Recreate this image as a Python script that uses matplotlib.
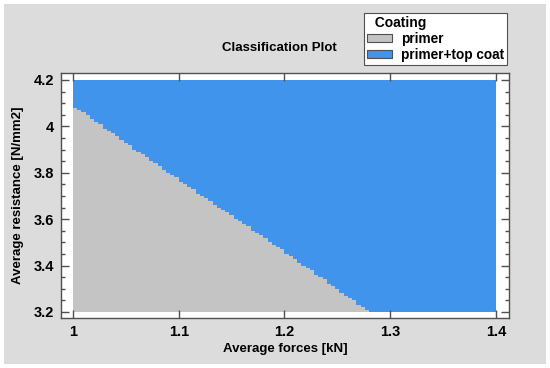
import matplotlib
matplotlib.use("Agg")
import matplotlib.pyplot as plt
import numpy as np
from matplotlib.colors import ListedColormap
from matplotlib.patches import Patch, Rectangle
from matplotlib.ticker import MultipleLocator

plt.rcParams["font.family"] = "Liberation Sans"
plt.rcParams["font.weight"] = "bold"
plt.rcParams["font.size"] = 9

# class boundary (x = average forces, y = average resistance)
boundary_x = [1.0, 1.1, 1.2, 1.28]
boundary_y = [4.09, 3.77, 3.46, 3.20]
classes = ['primer', 'primer+top coat']
class_colors = ['#C4C4C4', '#4094EC']

x_range = (1.0, 1.4)
y_range = (3.2, 4.2)
n_cells = 100

x_edges = np.linspace(x_range[0], x_range[1], n_cells + 1)
y_edges = np.linspace(y_range[0], y_range[1], n_cells + 1)
xc = (x_edges[:-1] + x_edges[1:]) / 2
yc = (y_edges[:-1] + y_edges[1:]) / 2
XC, YC = np.meshgrid(xc, yc)
label = (YC > np.interp(XC, boundary_x, boundary_y)).astype(int)

fig = plt.figure(figsize=(5.5, 3.68), dpi=100, facecolor='white')
fig.patches.append(Rectangle((4 / 550, 4 / 368), 542 / 550, 360 / 368,
                             transform=fig.transFigure, facecolor='#DCDCDC',
                             edgecolor='none', zorder=-10))

ax = fig.add_axes([61 / 550, 1 - 318 / 368, 448 / 550, 245 / 368])
ax.set_facecolor('white')
ax.pcolormesh(x_edges, y_edges, label, cmap=ListedColormap(class_colors),
              vmin=0, vmax=1, shading='flat')

ax.set_xlim(0.9887, 1.4123)
ax.set_ylim(3.174, 4.230)
ax.set_xticks([1.0, 1.1, 1.2, 1.3, 1.4])
ax.set_xticklabels(['1', '1.1', '1.2', '1.3', '1.4'])
ax.set_yticks([3.2, 3.4, 3.6, 3.8, 4.0, 4.2])
ax.set_yticklabels(['3.2', '3.4', '3.6', '3.8', '4', '4.2'])
ax.yaxis.set_minor_locator(MultipleLocator(0.05))

for s in ax.spines.values():
    s.set_color('#505050')
    s.set_linewidth(1)
ax.tick_params(which='both', direction='in', top=True, right=True,
               color='#505050', labelsize=10.5)
ax.tick_params(which='major', length=6, width=1, pad=5)
ax.tick_params(which='minor', length=3, width=1)

ax.set_xlabel('Average forces [kN]', fontsize=9.5, fontweight='bold', labelpad=3)
ax.set_ylabel('Average resistance [N/mm2]', fontsize=9.5, fontweight='bold', labelpad=7)
fig.text(279 / 550, 1 - 48 / 368, 'Classification Plot', ha='center', va='center',
         fontsize=9.5, fontweight='bold')

handles = [Patch(facecolor=c, edgecolor='#505050', linewidth=0.8) for c in class_colors]
leg = fig.legend(handles, classes, title='  Coating', loc='upper right',
                 bbox_to_anchor=(507 / 550, 1 - 13 / 368), frameon=True,
                 fancybox=False, edgecolor='#505050', framealpha=1,
                 fontsize=9.8, title_fontproperties={'weight': 'bold', 'size': 10},
                 alignment='left', handlelength=1.85, handleheight=0.6,
                 handletextpad=0.65, borderpad=0.2, labelspacing=0.15,
                 borderaxespad=0)
leg.get_frame().set_linewidth(0.8)

fig.savefig('out.png', dpi=100, facecolor=fig.get_facecolor())
